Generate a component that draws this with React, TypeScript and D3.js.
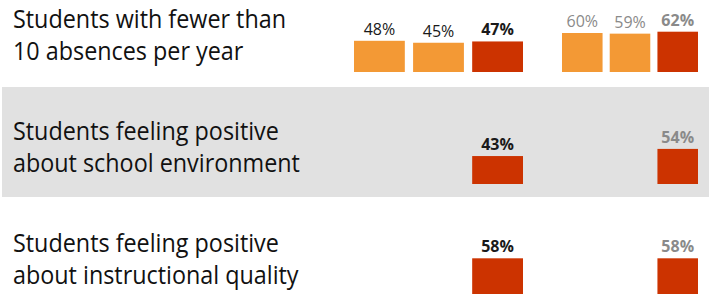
import * as d3 from 'd3'
import { useLayoutEffect, useRef, useState } from 'react'

const rows = ['absences', 'environment', 'instructional']
const rowLabels = [
  ['Students with fewer than', '10 absences per year'],
  ['Students feeling positive', 'about school environment'],
  ['Students feeling positive', 'about instructional quality'],
]
const groups = ['left', 'right']
const seriesKeys = ['s1', 's2', 's3']

// values per row, per group (series s1..s3); rows 2-3 only have s3
const absencesLeft = [48, 45, 47]
const absencesRight = [60, 59, 62]
const environmentValues = [43, 54]
const instructionalValues = [58, 58]

interface Bar {
  row: string
  group: string
  key: string
  value: number
}

const bars: Bar[] = [
  ...seriesKeys.map((key, i) => ({ row: 'absences', group: 'left', key, value: absencesLeft[i] })),
  ...seriesKeys.map((key, i) => ({ row: 'absences', group: 'right', key, value: absencesRight[i] })),
  ...groups.map((group, i) => ({ row: 'environment', group, key: 's3', value: environmentValues[i] })),
  ...groups.map((group, i) => ({ row: 'instructional', group, key: 's3', value: instructionalValues[i] })),
]

const W = 709
const H = 294
const FONT = "'Open Sans', 'Noto Sans', sans-serif"
const ORANGE = '#F39935'
const RED = '#CC3300'
const GRAY_TEXT = '#8A8A8A'

export default function App() {
  const measureRef = useRef<SVGTextElement | null>(null)
  const [sx, setSx] = useState(0.87)

  useLayoutEffect(() => {
    const el = measureRef.current
    if (!el) return
    const len = el.getComputedTextLength()
    if (len > 0) setSx(273 / len)
  }, [])

  // row baseline (bottom of the bars)
  const y0 = d3.scalePoint<string>().domain(rows).range([72, 296])
  const h = d3.scaleLinear().domain([0, 100]).range([0, 65])

  const xBand: Record<string, d3.ScaleBand<string>> = {
    left: d3.scaleBand<string>().domain(seriesKeys).range([354, 523]).paddingInner(0.14),
    right: d3.scaleBand<string>().domain(seriesKeys).range([562, 698]).paddingInner(0.15),
  }

  const bandTop = (y0('environment') ?? 0) - 97
  const bandBottom = (y0('environment') ?? 0) + 13

  return (
    <div style={{ position: 'fixed', left: 0, top: 0 }}>
      <svg width={W} height={H} style={{ display: 'block', background: '#fff' }}>
        <rect x={2} y={bandTop} width={W - 2} height={bandBottom - bandTop} fill="#E1E1E1" />

        {rows.map((row, ri) => {
          const base = y0(row) ?? 0
          return (
            <g key={row}>
              {rowLabels[ri].map((line, li) => (
                <text
                  key={li}
                  ref={ri === 0 && li === 0 ? measureRef : undefined}
                  transform={`translate(13,${base - 44 + li * 32}) scale(${sx},1)`}
                  fontFamily={FONT}
                  fontSize={26}
                  fill="#111"
                >
                  {line}
                </text>
              ))}
            </g>
          )
        })}

        {bars.map((b) => {
          const xs = xBand[b.group]
          const x = xs(b.key) ?? 0
          const bw = xs.bandwidth()
          const base = y0(b.row) ?? 0
          const top = base - h(b.value)
          const highlight = b.key === 's3'
          const fill = highlight ? RED : ORANGE
          const labelColor = b.group === 'left' ? '#1a1a1a' : GRAY_TEXT
          return (
            <g key={`${b.row}-${b.group}-${b.key}`}>
              <rect x={x} y={top} width={bw} height={h(b.value)} fill={fill} />
              <text
                x={x + bw / 2}
                y={top - 6}
                textAnchor="middle"
                fontFamily={FONT}
                fontSize={16}
                fontWeight={highlight ? 700 : 400}
                fill={labelColor}
              >
                {b.value}%
              </text>
            </g>
          )
        })}
      </svg>
    </div>
  )
}
